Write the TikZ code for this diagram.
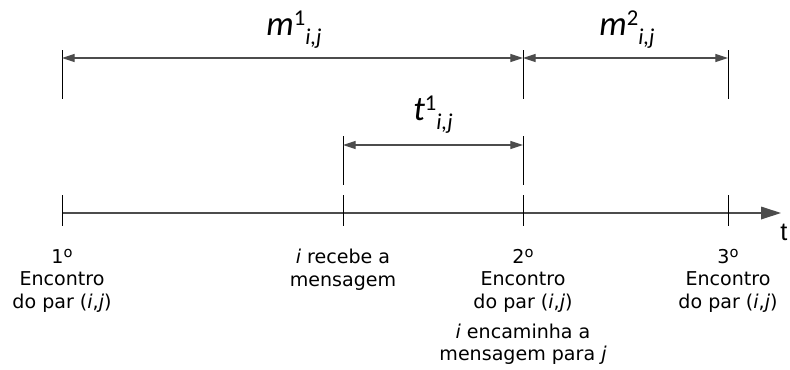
\documentclass[tikz,border=0pt]{standalone}
\usepackage{fontspec}
\setmainfont{DejaVu Sans}
\newfontfamily\symfont{Carlito}
\newfontfamily\axisfont{Liberation Sans}
\usetikzlibrary{arrows.meta, positioning}

% interval label: letter, upper index, lower index i,j
\newcommand{\intlabel}[2]{\textit{#1}\raisebox{7.5pt}{\fontsize{17}{18}\selectfont #2}\raisebox{-7pt}{\fontsize{17}{18}\selectfont\textit{i,j}}}
% ordinal mark without underline
\newcommand{\ordo}{\raisebox{4.5pt}{\fontsize{11}{11}\selectfont o}}

\begin{document}
\begin{tikzpicture}[
  x=0.75pt, y=-0.75pt,
  node distance=17pt,
  axis/.style={draw=black!70, line width=0.9pt, -{Triangle[length=15pt, width=9.5pt]}},
  dim/.style={draw=black!70, line width=0.8pt, {Triangle[length=9.5pt, width=6pt]}-{Triangle[length=9.5pt, width=6pt]}},
  tick/.style={draw=black, line width=0.75pt},
  event/.style={align=center, inner sep=0pt, font=\fontsize{14.3}{17}\selectfont},
  interval/.style={anchor=base, inner sep=0pt, font=\symfont\fontsize{26}{28}\selectfont},
]
\useasboundingbox (0,0) rectangle (790,369);

% Time axis
\coordinate (start) at (62,213);
\coordinate (tend) at (781,213);
\draw[axis] (start) -- (tend);
\node[anchor=base west, inner sep=0pt, font=\axisfont\fontsize{19}{22}\selectfont] (tlab) at (780,240) {t};

% Ticks on the axis
\foreach \name/\x in {e1/62, rec/343, e2/523, e3/728} {
  \coordinate (\name top) at (\x,195);
  \coordinate (\name) at (\x,226);
  \draw[tick] (\name top) -- (\name);
}

% Events below the axis
\node[event, below=of e1] (ev1) {1\ordo\\Encontro\\do par (\textit{i},\textit{j})};
\node[event, below=of rec] (evrec) {\textit{i} recebe a\\mensagem};
\node[event, below=of e2] (ev2) {2\ordo\\Encontro\\do par (\textit{i},\textit{j})};
\node[event, below=8pt of ev2] (evfwd) {\textit{i} encaminha a\\mensagem para \textit{j}};
\node[event, below=of e3] (ev3) {3\ordo\\Encontro\\do par (\textit{i},\textit{j})};

% Extension lines
\foreach \name/\x/\ya/\yb in {a1/62/50/99, a2/523/50/99, a3/728/50/99, b1/343/136/185, b2/523/136/185} {
  \coordinate (\name top) at (\x,\ya);
  \coordinate (\name bot) at (\x,\yb);
  \draw[tick] (\name top) -- (\name bot);
}

% Intervals between the meetings
\coordinate (m1a) at (62,58);
\coordinate (m1b) at (523,58);
\coordinate (m2b) at (728,58);
\coordinate (t1a) at (343,145);
\coordinate (t1b) at (523,145);
\draw[dim] (m1a) -- (m1b);
\draw[dim] (m1b) -- (m2b);
\draw[dim] (t1a) -- (t1b);

\node[interval] (m1) at (294,35) {\intlabel{m}{1}};
\node[interval] (m2) at (627,35) {\intlabel{m}{2}};
\node[interval] (t1) at (433,120) {\intlabel{t}{1}};

\end{tikzpicture}
\end{document}
